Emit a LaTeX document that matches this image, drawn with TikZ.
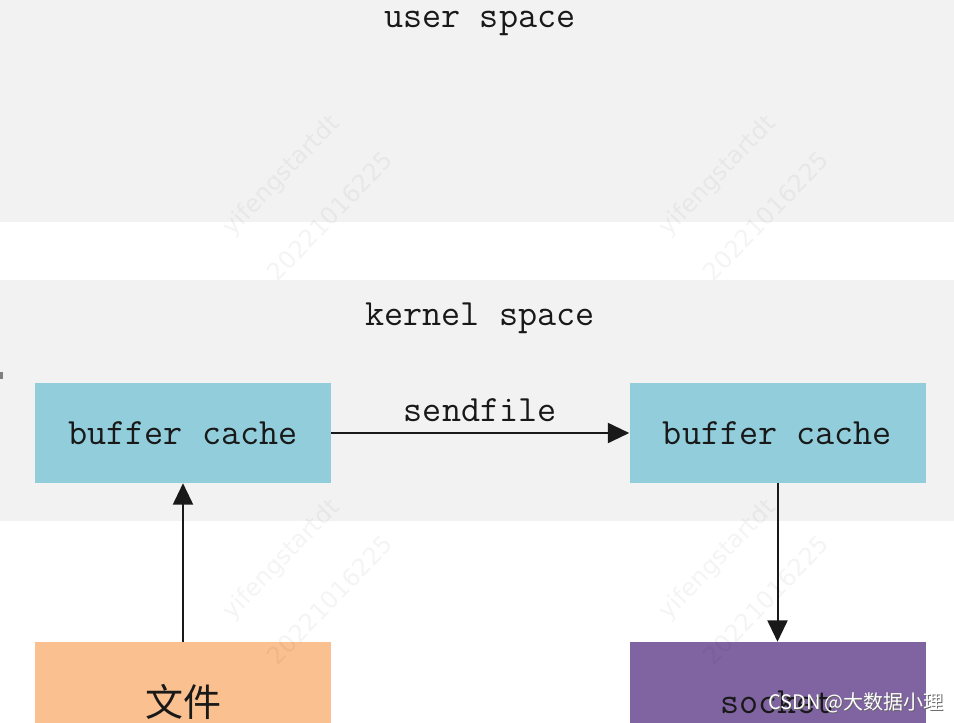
\documentclass[tikz,border=0pt]{standalone}
\usepackage{fontspec}
\newfontfamily\cjk{Noto Sans CJK SC}
\newfontfamily\wmfont{DejaVu Sans}
\usetikzlibrary{arrows.meta}
\definecolor{panelgray}{HTML}{F2F2F2}
\definecolor{cacheblue}{HTML}{92CDDC}
\definecolor{fileorange}{HTML}{FAC090}
\definecolor{sockpurple}{HTML}{8064A2}
\tikzset{
  box/.style={draw=none, minimum width=222pt, minimum height=75pt, inner sep=0pt,
              font=\fontsize{27.8}{30}\ttfamily, text=black!90},
  lowbox/.style={box, minimum height=90pt},
  title/.style={font=\fontsize{27.8}{30}\ttfamily, text=black!90, inner sep=0pt, anchor=base},
  conn/.style={line width=1.5pt, draw=black!90, -{Triangle[length=16pt,width=15pt]}},
  wm/.style={font=\fontsize{18}{20}\wmfont, text=black, opacity=0.045, rotate=46, inner sep=0pt},
}
\begin{document}
\begin{tikzpicture}[x=0.75pt,y=-0.75pt]
\useasboundingbox (0,0) rectangle (954,722);
\fill[white] (0,0) rectangle (954,722);
% panels
\fill[panelgray] (0,0) rectangle (954,222);
\fill[panelgray] (0,280) rectangle (954,521);
\fill[black!50] (0,372) rectangle (3,379);
% titles
\node[title] (user) at (480,27) {user space};
\node[title] (kernel) at (480,325) {kernel space};
% boxes
\node[box, fill=cacheblue] (bc1) at (183,433) {buffer cache};
\node[box, fill=cacheblue] (bc2) at (777.5,433) {buffer cache};
\node[lowbox, fill=fileorange, font=\fontsize{28.5}{30}\cjk] (file) at (183,702) {文件};
\node[lowbox, fill=sockpurple] (sock) at (777.5,702) {socket};
% connectors
\draw[conn] (bc1.east) -- node[above=8pt, font=\fontsize{27.8}{30}\ttfamily, text=black!90, inner sep=0pt] (sf) {sendfile} (bc2.west);
\draw[conn] (file.north) -- (bc1.south);
\draw[conn] (bc2.south) -- (sock.north);
% faint watermarks
\foreach \dx/\dy [count=\i] in {0/0, 436/0, 0/384, 436/384}{
  \node[wm] (wma\i) at (282+\dx,176+\dy) {yifengstartdt};
  \node[wm] (wmb\i) at (330+\dx,216+\dy) {20221016225};
}
% CSDN watermark
\node[font=\fontsize{15}{16}\cjk, text=black!60, inner sep=0pt] (csdnshadow) at (857,704) {CSDN @大数据小理};
\node[font=\fontsize{15}{16}\cjk, text=white, inner sep=0pt] (csdn) at (856,703) {CSDN @大数据小理};
\end{tikzpicture}
\end{document}
